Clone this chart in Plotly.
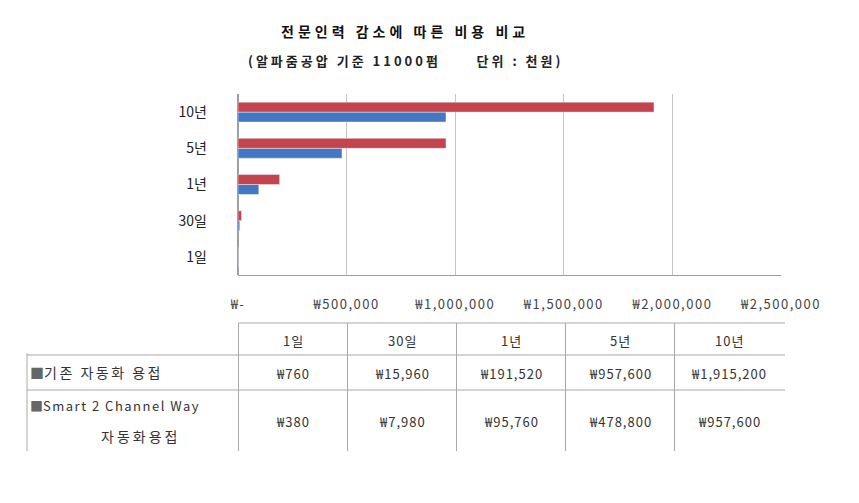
import plotly.graph_objects as go

categories = ["1일", "30일", "1년", "5년", "10년"]
series_names = ["기존 자동화 용접", "Smart 2 Channel Way", "자동화용접"]
existing = [760, 15960, 191520, 957600, 1915200]
smart = [380, 7980, 95760, 478800, 957600]
tick_vals = [0, 500000, 1000000, 1500000, 2000000, 2500000]
tick_text = ["₩-", "₩500,000", "₩1,000,000", "₩1,500,000", "₩2,000,000", "₩2,500,000"]

RED = "#C5434C"
BLUE = "#4377C4"
FONT = "Noto Sans CJK KR"
W, H = 859, 503
L, R, T, B = 238, 78, 94, 228
PW, PH = W - L - R, H - T - B


def spaced(t, sp):
    return f"<span style='letter-spacing:{sp}px'>{t}</span>"


fig = go.Figure()
fig.add_trace(go.Bar(y=categories, x=smart, orientation="h", marker_color=BLUE,
                     name="Smart 2 Channel Way 자동화용접", showlegend=False))
fig.add_trace(go.Bar(y=categories, x=existing, orientation="h", marker_color=RED,
                     name="기존 자동화 용접", showlegend=False))

fig.update_layout(
    width=W, height=H,
    margin=dict(l=L, r=R, t=T, b=B),
    plot_bgcolor="white", paper_bgcolor="white",
    barmode="group", bargap=0.45, bargroupgap=0,
    font=dict(family=FONT, color="#222"),
)
fig.update_xaxes(range=[0, 2500000], tickvals=tick_vals,
                 ticktext=[spaced(t, 1.5) for t in tick_text],
                 showgrid=True, gridcolor="#C4C4C4", gridwidth=1,
                 showline=True, linecolor="#9E9E9E", zeroline=True, zerolinecolor="#9E9E9E",
                 ticks="", ticklabelstandoff=17,
                 tickfont=dict(family=FONT, size=13, color="#444"))
fig.update_yaxes(categoryorder="array", categoryarray=categories,
                 showgrid=False, ticks="", ticklabelstandoff=30,
                 tickfont=dict(family=FONT, size=14, color="#222"))


def px(x):
    return (x - L) / PW


def py(y):
    return (H - B - y) / PH


def note(text, x, y, size=12, color="#333", xanchor="center"):
    fig.add_annotation(text=text, x=px(x), y=py(y), xref="paper", yref="paper",
                       xanchor=xanchor, yanchor="middle", showarrow=False,
                       font=dict(family=FONT, size=size, color=color))


# Titles
note(spaced("<b>전문인력 감소에 따른 비용 비교</b>", 4), 405, 31, size=14, color="#111")
note(spaced("<b>(알파줌공압 기준 11000펌      단위 : 천원)</b>", 3), 405, 61, size=13, color="#222")

# Data table below the chart
x0 = 238.5
colw = 109
cols_x = [x0 + i * colw for i in range(len(categories) + 1)]
line_col = "#A8A8A8"
fig.add_shape(type="line", xref="paper", yref="paper", x0=px(x0), x1=px(785), y0=py(323), y1=py(323),
              line=dict(color=line_col, width=1))
for yy in (355, 390):
    fig.add_shape(type="line", xref="paper", yref="paper", x0=px(27), x1=px(785), y0=py(yy), y1=py(yy),
                  line=dict(color=line_col, width=1))
for xx in cols_x[:-1]:
    fig.add_shape(type="line", xref="paper", yref="paper", x0=px(xx), x1=px(xx), y0=py(323), y1=py(451),
                  line=dict(color=line_col, width=1))
fig.add_shape(type="line", xref="paper", yref="paper", x0=px(27), x1=px(27), y0=py(353), y1=py(451),
              line=dict(color=line_col, width=1))

for i, c in enumerate(categories):
    cx = x0 + colw * (i + 0.5)
    note(spaced(c, 1), cx, 340, size=13)
    note(spaced(f"₩{existing[i]:,}", 1), cx, 373, size=13)
    note(spaced(f"₩{smart[i]:,}", 1), cx, 421, size=13)

note("<span style='color:#666'>■</span>" + spaced(series_names[0], 2.5), 28, 372, size=14, xanchor="left")
note("<span style='color:#666'>■</span>" + spaced(series_names[1], 1.5), 28, 405, size=13, xanchor="left")
note(spaced(series_names[2], 3), 140, 436, size=14)

fig.write_html("out.html")
